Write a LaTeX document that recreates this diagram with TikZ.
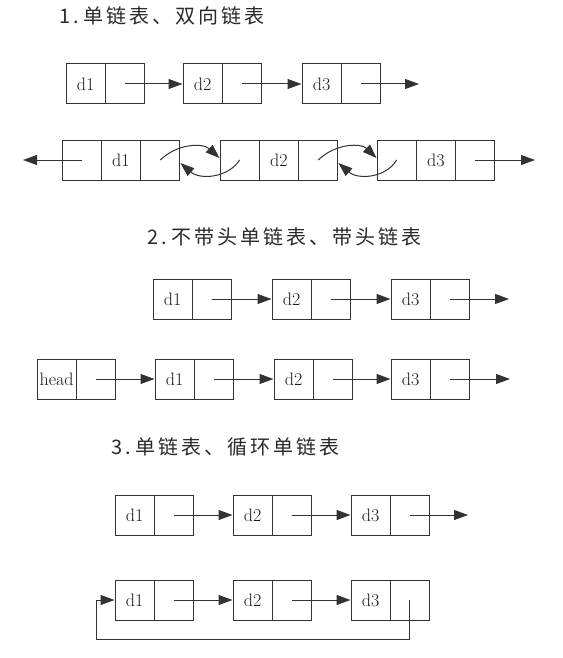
\documentclass[tikz,border=0pt]{standalone}
\usepackage{fontspec}
\newfontfamily\cjk[LetterSpace=15]{Noto Sans CJK SC}
\usetikzlibrary{arrows.meta}
\definecolor{linec}{HTML}{333333}
\definecolor{titlec}{HTML}{2A2A2A}
\newcommand\twobox[4]{%
  \node[cell] (#1a) at ({#2+19.65},#3) {#4};
  \node[cell] (#1b) at ({#2+58.95},#3) {};}
\newcommand\threebox[4]{%
  \node[cell] (#1a) at ({#2+19.65},#3) {};
  \node[cell] (#1b) at ({#2+58.95},#3) {#4};
  \node[cell] (#1c) at ({#2+98.25},#3) {};}
\begin{document}
\begin{tikzpicture}[x=1pt,y=-1pt,
  cell/.style={draw=linec, line width=1pt, minimum width=39.3pt, minimum height=40pt,
    inner sep=0pt, text=black!90, font=\fontsize{18}{18}\selectfont},
  arr/.style={draw=linec, line width=1pt, -{Triangle[length=14pt,width=10pt]}},
  ttl/.style={anchor=west, inner sep=0pt, text=titlec, font=\cjk\fontsize{20}{20}\selectfont}]
\useasboundingbox (0,0) rectangle (562,658);
\fill[white] (0,0) rectangle (562,658);

% titles
\node[ttl] (t1) at (59,16) {1.\hspace{5pt}单链表、双向链表};
\node[ttl] (t2) at (147,237) {2.\hspace{5pt}不带头单链表、带头链表};
\node[ttl] (t3) at (111,447) {3.\hspace{5pt}单链表、循环单链表};

% row 1: singly linked list
\twobox{a1}{66}{84}{d1}
\twobox{a2}{183}{84}{d2}
\twobox{a3}{302}{84}{d3}
\coordinate (a4) at (419,84);
\draw[arr] (a1b.center) -- (a2a.west);
\draw[arr] (a2b.center) -- (a3a.west);
\draw[arr] (a3b.center) -- (a4);

% row 2: doubly linked list
\threebox{b1}{62}{160}{d1}
\threebox{b2}{220}{160}{d2}
\threebox{b3}{377}{160}{d3}
\coordinate (bl) at (23,160);
\coordinate (br) at (535,160);
\draw[arr] (b1a.center) -- (bl);
\draw[arr] (b3c.center) -- (br);
\draw[arr] (b1c.center) .. controls (178,143) and (203,143) .. ([yshift=2pt]b2a.west);
\draw[arr] (b2a.center) .. controls (228,178) and (200,180) .. ([yshift=-3pt]b1c.east);
\draw[arr] (b2c.center) .. controls (336,143) and (361,143) .. ([yshift=2pt]b3a.west);
\draw[arr] (b3a.center) .. controls (386,178) and (358,180) .. ([yshift=-3pt]b2c.east);

% row 3: without head
\twobox{c1}{153}{299}{d1}
\twobox{c2}{272}{299}{d2}
\twobox{c3}{391}{299}{d3}
\coordinate (c4) at (509,299);
\draw[arr] (c1b.center) -- (c2a.west);
\draw[arr] (c2b.center) -- (c3a.west);
\draw[arr] (c3b.center) -- (c4);

% row 4: with head
\twobox{h}{37}{379}{head}
\twobox{e1}{155}{379}{d1}
\twobox{e2}{274}{379}{d2}
\twobox{e3}{391}{379}{d3}
\coordinate (e4) at (510,379);
\draw[arr] (hb.center) -- (e1a.west);
\draw[arr] (e1b.center) -- (e2a.west);
\draw[arr] (e2b.center) -- (e3a.west);
\draw[arr] (e3b.center) -- (e4);

% row 5: singly linked list
\twobox{f1}{115}{515}{d1}
\twobox{f2}{233}{515}{d2}
\twobox{f3}{351}{515}{d3}
\coordinate (f4) at (468,515);
\draw[arr] (f1b.center) -- (f2a.west);
\draw[arr] (f2b.center) -- (f3a.west);
\draw[arr] (f3b.center) -- (f4);

% row 6: circular list
\twobox{g1}{115}{600}{d1}
\twobox{g2}{233}{600}{d2}
\twobox{g3}{351}{600}{d3}
\coordinate (lp) at (96,639);
\draw[arr] (g1b.center) -- (g2a.west);
\draw[arr] (g2b.center) -- (g3a.west);
\draw[arr] (g3b.center) |- (lp) |- (g1a.west);
\end{tikzpicture}
\end{document}
